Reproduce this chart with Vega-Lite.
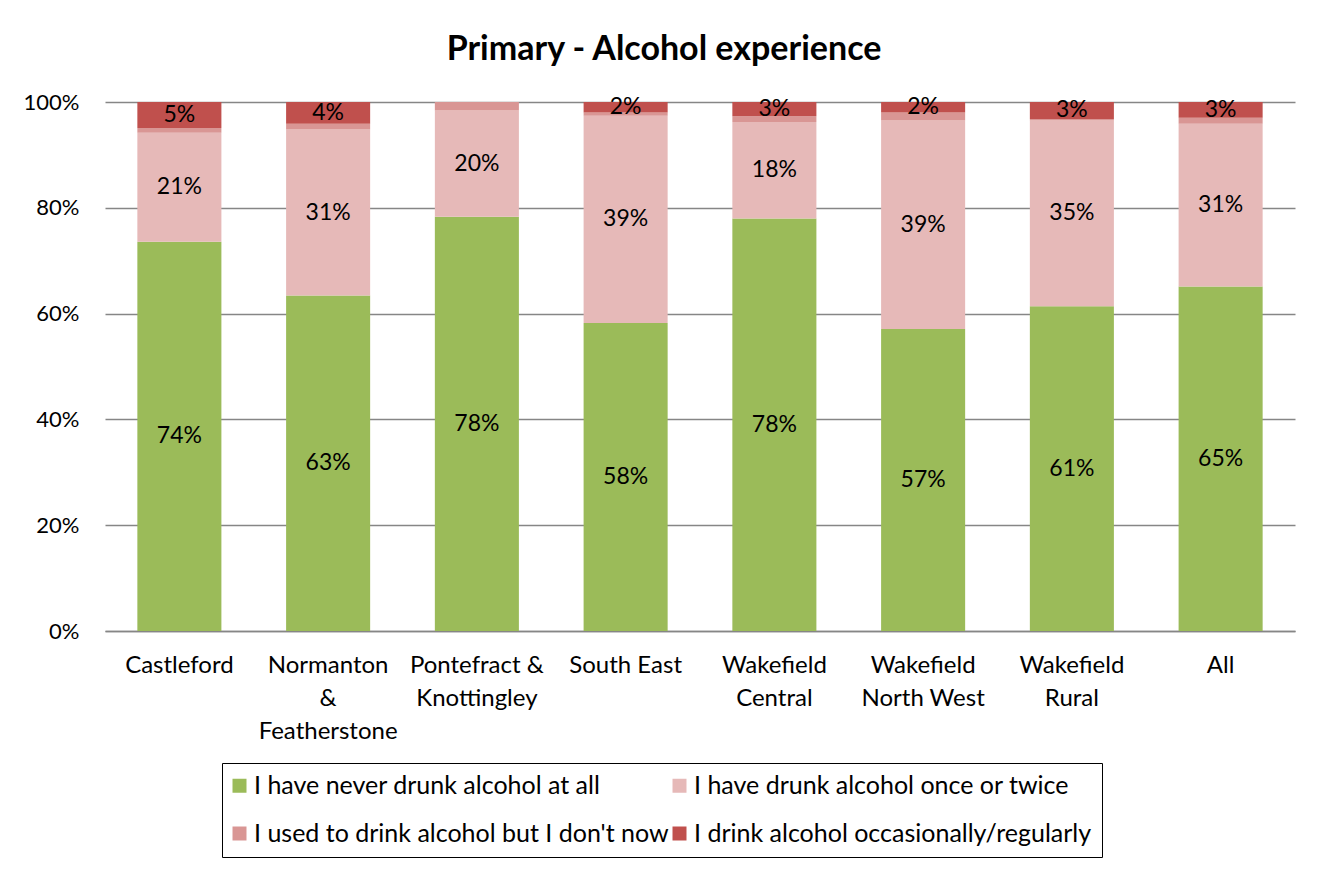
{
  "$schema": "https://vega.github.io/schema/vega-lite/v6.json",
  "autosize": {"type": "none"},
  "width": 1190,
  "height": 529,
  "padding": {"left": 105, "top": 102, "right": 29, "bottom": 238},
  "background": "white",
  "config": {
    "font": "Lato",
    "view": {"stroke": null},
    "axis": {"labelFont": "Lato", "labelColor": "black", "titleFont": "Lato"},
    "legend": {"labelFont": "Lato"}
  },
  "title": {
    "text": "Primary - Alcohol experience",
    "font": "Lato",
    "fontSize": 34,
    "fontWeight": "bold",
    "color": "black",
    "anchor": "middle",
    "dx": -36,
    "offset": 24
  },
  "datasets": {
    "responses": [
      {"response": "I have never drunk alcohol at all", "rank": 1},
      {"response": "I have drunk alcohol once or twice", "rank": 2},
      {"response": "I used to drink alcohol but I don't now", "rank": 3},
      {"response": "I drink alcohol occasionally/regularly", "rank": 4}
    ]
  },
  "data": {
    "values": [
      {"area": "Castleford", "response": "I have never drunk alcohol at all", "share": 0.736},
      {"area": "Castleford", "response": "I have drunk alcohol once or twice", "share": 0.206},
      {"area": "Castleford", "response": "I used to drink alcohol but I don't now", "share": 0.009},
      {"area": "Castleford", "response": "I drink alcohol occasionally/regularly", "share": 0.049},
      {"area": "Normanton & Featherstone", "response": "I have never drunk alcohol at all", "share": 0.634},
      {"area": "Normanton & Featherstone", "response": "I have drunk alcohol once or twice", "share": 0.314},
      {"area": "Normanton & Featherstone", "response": "I used to drink alcohol but I don't now", "share": 0.011},
      {"area": "Normanton & Featherstone", "response": "I drink alcohol occasionally/regularly", "share": 0.041},
      {"area": "Pontefract & Knottingley", "response": "I have never drunk alcohol at all", "share": 0.783},
      {"area": "Pontefract & Knottingley", "response": "I have drunk alcohol once or twice", "share": 0.201},
      {"area": "Pontefract & Knottingley", "response": "I used to drink alcohol but I don't now", "share": 0.016},
      {"area": "South East", "response": "I have never drunk alcohol at all", "share": 0.582},
      {"area": "South East", "response": "I have drunk alcohol once or twice", "share": 0.392},
      {"area": "South East", "response": "I used to drink alcohol but I don't now", "share": 0.006},
      {"area": "South East", "response": "I drink alcohol occasionally/regularly", "share": 0.020},
      {"area": "Wakefield Central", "response": "I have never drunk alcohol at all", "share": 0.780},
      {"area": "Wakefield Central", "response": "I have drunk alcohol once or twice", "share": 0.182},
      {"area": "Wakefield Central", "response": "I used to drink alcohol but I don't now", "share": 0.011},
      {"area": "Wakefield Central", "response": "I drink alcohol occasionally/regularly", "share": 0.027},
      {"area": "Wakefield North West", "response": "I have never drunk alcohol at all", "share": 0.571},
      {"area": "Wakefield North West", "response": "I have drunk alcohol once or twice", "share": 0.394},
      {"area": "Wakefield North West", "response": "I used to drink alcohol but I don't now", "share": 0.015},
      {"area": "Wakefield North West", "response": "I drink alcohol occasionally/regularly", "share": 0.020},
      {"area": "Wakefield Rural", "response": "I have never drunk alcohol at all", "share": 0.614},
      {"area": "Wakefield Rural", "response": "I have drunk alcohol once or twice", "share": 0.351},
      {"area": "Wakefield Rural", "response": "I used to drink alcohol but I don't now", "share": 0.003},
      {"area": "Wakefield Rural", "response": "I drink alcohol occasionally/regularly", "share": 0.032},
      {"area": "All", "response": "I have never drunk alcohol at all", "share": 0.651},
      {"area": "All", "response": "I have drunk alcohol once or twice", "share": 0.308},
      {"area": "All", "response": "I used to drink alcohol but I don't now", "share": 0.011},
      {"area": "All", "response": "I drink alcohol occasionally/regularly", "share": 0.030}
    ]
  },
  "transform": [
    {"lookup": "response", "from": {"data": {"name": "responses"}, "key": "response", "fields": ["rank"]}}
  ],
  "encoding": {
    "x": {
      "field": "area",
      "type": "nominal",
      "sort": null,
      "scale": {"paddingInner": 0.435, "paddingOuter": 0.2175},
      "axis": {
        "title": null,
        "labelAngle": 0,
        "labelFontSize": 24,
        "ticks": false,
        "domainColor": "#868686",
        "domainWidth": 1.5,
        "labelPadding": 22,
        "labelLineHeight": 33,
        "labelBaseline": "top",
        "labelExpr": "datum.value == 'Normanton & Featherstone' ? ['Normanton', '&', 'Featherstone'] : datum.value == 'Pontefract & Knottingley' ? ['Pontefract &', 'Knottingley'] : datum.value == 'Wakefield Central' ? ['Wakefield', 'Central'] : datum.value == 'Wakefield North West' ? ['Wakefield', 'North West'] : datum.value == 'Wakefield Rural' ? ['Wakefield', 'Rural'] : datum.value"
      }
    },
    "order": {"field": "rank", "type": "quantitative", "sort": "ascending"}
  },
  "layer": [
    {
      "mark": {"type": "bar"},
      "encoding": {
        "y": {
          "field": "share",
          "type": "quantitative",
          "stack": "zero",
          "scale": {"domain": [0, 1], "nice": false},
          "axis": {
            "title": null,
            "format": ".0%",
            "values": [0, 0.2, 0.4, 0.6, 0.8, 1],
            "ticks": false,
            "domain": false,
            "labelFontSize": 22,
            "gridColor": "#868686",
            "gridWidth": 1.5,
            "labelPadding": 26
          }
        },
        "color": {
          "field": "response",
          "type": "nominal",
          "sort": ["I have never drunk alcohol at all", "I have drunk alcohol once or twice", "I used to drink alcohol but I don't now", "I drink alcohol occasionally/regularly"],
          "scale": {
            "domain": ["I have never drunk alcohol at all", "I have drunk alcohol once or twice", "I used to drink alcohol but I don't now", "I drink alcohol occasionally/regularly"],
            "range": ["#9BBB59", "#E6B9B8", "#D99694", "#C0504D"]
          },
          "legend": {
            "title": null,
            "orient": "none",
            "legendX": 117,
            "legendY": 661,
            "direction": "horizontal",
            "columns": 2,
            "symbolType": "square",
            "symbolSize": 196,
            "symbolStrokeWidth": 0,
            "symbolOffset": -5,
            "labelFontSize": 25,
            "labelColor": "black",
            "labelLimit": 600,
            "labelOffset": 2,
            "columnPadding": 3,
            "rowPadding": 22,
            "strokeColor": "black",
            "padding": 10
          }
        }
      }
    },
    {
      "mark": {"type": "text", "fontSize": 23, "font": "Lato", "color": "black", "baseline": "middle"},
      "encoding": {
        "y": {"field": "share", "type": "quantitative", "stack": "zero", "bandPosition": 0.5},
        "detail": {"field": "response", "type": "nominal"},
        "text": {
          "condition": {"test": "datum.response == \"I used to drink alcohol but I don't now\"", "value": ""},
          "field": "share",
          "type": "quantitative",
          "format": ".0%"
        }
      }
    }
  ]
}
